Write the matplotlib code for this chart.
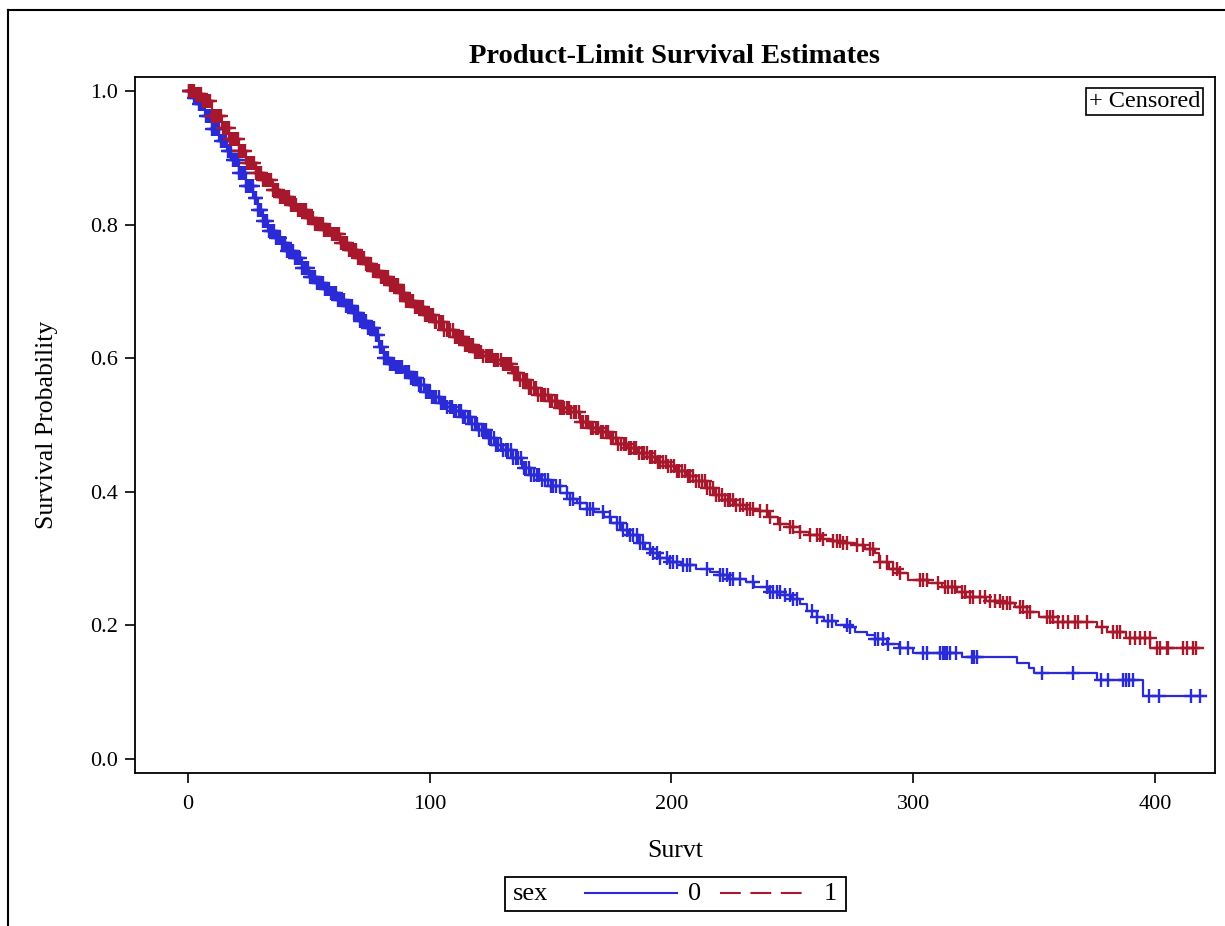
import numpy as np
import matplotlib.pyplot as plt
from matplotlib.lines import Line2D
from matplotlib.patches import Rectangle

plt.rcParams['font.family'] = ['Liberation Serif', 'DejaVu Serif']

BLUE = "#2a2ad6"
RED = "#a8182c"

# step knots (time, survival)
t_male = [0, 2, 4, 7, 10, 13, 16, 18, 21, 24, 27, 29, 31, 33, 36, 38, 41, 44, 47, 50,
          53, 56, 59, 62, 65, 68, 71, 74, 77, 79, 81, 83, 86, 89, 92, 95, 98, 101, 104,
          107, 110, 113, 117, 120, 124, 127, 130, 134, 138, 142, 146, 150, 154, 158,
          161, 165, 168, 172, 175, 179, 182, 186, 189, 192, 195, 199, 204, 210, 216,
          220, 224, 231, 234, 240, 245, 250, 253, 256, 260, 263, 268, 273, 276, 281,
          284, 289, 294, 300, 320, 343, 348, 350, 376, 395, 421]
s_male = [1.0, 0.99, 0.98, 0.962, 0.943, 0.925, 0.91, 0.897, 0.878, 0.858, 0.84, 0.822,
          0.805, 0.79, 0.78, 0.772, 0.76, 0.75, 0.735, 0.722, 0.712, 0.704, 0.697, 0.687,
          0.678, 0.667, 0.656, 0.646, 0.635, 0.617, 0.6, 0.592, 0.587, 0.58, 0.57, 0.56,
          0.55, 0.542, 0.533, 0.527, 0.521, 0.512, 0.502, 0.493, 0.48, 0.47, 0.462, 0.45,
          0.435, 0.425, 0.418, 0.408, 0.398, 0.39, 0.383, 0.375, 0.37, 0.362, 0.354,
          0.343, 0.335, 0.323, 0.315, 0.308, 0.301, 0.295, 0.29, 0.285, 0.28, 0.275,
          0.27, 0.265, 0.257, 0.25, 0.246, 0.24, 0.232, 0.222, 0.213, 0.207, 0.2, 0.197,
          0.19, 0.186, 0.179, 0.172, 0.166, 0.159, 0.153, 0.144, 0.136, 0.129, 0.118,
          0.095, 0.095]

t_female = [0, 3, 6, 10, 14, 17, 21, 24, 28, 31, 35, 38, 42, 45, 49, 52, 56, 59, 63, 66,
            70, 73, 76, 79, 83, 87, 90, 94, 98, 102, 106, 110, 114, 118, 122, 126, 130,
            134, 137, 141, 145, 149, 153, 158, 162, 166, 170, 174, 178, 182, 186, 190,
            194, 198, 202, 206, 210, 214, 218, 222, 226, 231, 236, 240, 244, 249, 253,
            257, 262, 266, 270, 276, 280, 284, 286, 290, 294, 298, 306, 312, 318, 322,
            330, 336, 342, 347, 352, 358, 376, 380, 388, 398, 420]
s_female = [1.0, 0.995, 0.985, 0.962, 0.945, 0.928, 0.91, 0.893, 0.878, 0.867, 0.852,
            0.842, 0.83, 0.822, 0.81, 0.801, 0.792, 0.786, 0.772, 0.762, 0.75, 0.741,
            0.731, 0.721, 0.71, 0.698, 0.686, 0.676, 0.665, 0.655, 0.642, 0.632, 0.62,
            0.61, 0.603, 0.597, 0.592, 0.578, 0.567, 0.556, 0.545, 0.536, 0.525, 0.52,
            0.505, 0.495, 0.49, 0.481, 0.472, 0.465, 0.458, 0.452, 0.445, 0.438, 0.431,
            0.424, 0.416, 0.405, 0.395, 0.388, 0.38, 0.375, 0.371, 0.362, 0.352, 0.347,
            0.34, 0.336, 0.33, 0.327, 0.323, 0.32, 0.315, 0.308, 0.295, 0.285, 0.278,
            0.268, 0.263, 0.258, 0.25, 0.242, 0.237, 0.233, 0.228, 0.22, 0.213, 0.205,
            0.198, 0.19, 0.181, 0.166, 0.166]

# censoring times
c_male = [0.3, 1.0, 1.7, 2.4, 3.1, 3.8, 4.5, 5.2, 5.9, 6.6, 7.3, 8.0, 8.7, 9.4, 10.1,
          10.8, 11.5, 12.2, 12.9, 13.6, 14.3, 15.0, 15.7, 16.4, 17.1, 17.8, 18.5, 19.2,
          19.9, 20.6, 21.3, 22.0, 22.7, 23.4, 24.1, 24.8, 25.5, 26.2, 26.9, 27.6, 28.3,
          29.0, 29.7, 30.4, 31.2, 31.9, 32.7, 33.4, 34.2, 34.9, 35.7, 36.4, 37.2, 37.9,
          38.7, 39.5, 40.2, 41.0, 41.8, 42.5, 43.3, 44.1, 44.8, 45.6, 46.4, 47.2, 47.9,
          48.7, 49.5, 50.3, 51.1, 51.9, 52.6, 53.4, 54.2, 55.0, 55.8, 56.6, 57.4, 58.2,
          59.0, 59.8, 60.6, 61.4, 62.2, 63.0, 63.8, 64.6, 65.4, 66.2, 67.0, 67.9, 68.7,
          69.5, 70.3, 71.1, 71.9, 72.8, 73.6, 74.4, 75.2, 76.1, 76.9, 77.7, 78.6, 79.4,
          80.2, 81.1, 81.9, 82.8, 83.6, 84.5, 85.3, 86.2, 87.0, 87.9, 88.7, 89.6, 90.5,
          91.3, 92.2, 93.1, 93.9, 94.8, 95.7, 96.6, 97.5, 98.3, 99.2, 100.1, 101.0, 101.9,
          102.8, 103.7, 104.6, 105.5, 106.4, 107.3, 108.3, 109.2, 110.1, 111.0, 112.0,
          112.9, 113.8, 114.8, 115.7, 116.7, 117.6, 118.6, 119.5, 120.5, 121.5, 122.4,
          123.4, 124.4, 125.4, 126.4, 127.4, 128.4, 129.4, 130.4, 131.4, 132.5, 133.5,
          134.6, 135.6, 136.7, 137.7, 138.8, 139.9, 141.0, 142.1, 143.2, 144.3, 145.4,
          146.5, 147.7, 148.8, 150.0, 151.1, 152.3,
          153.9, 156.8, 158, 159.3, 162.2, 165, 166.2, 167.5, 171.7, 174.6, 177.5, 178.7,
          179.9, 181.6, 182.8, 184.1, 185.7, 187, 188.2, 191.1, 192.3, 194, 195.2, 198.1,
          199.4, 200.6, 202.3, 204.8, 206.4, 207.6, 214.7, 220, 221.2, 222.8, 224.1,
          225.3, 228.2, 233.7, 239.5, 240.7, 242, 243.6, 244.9, 246.9, 249, 250.3, 252,
          258.1, 260.2, 264.7, 266.4, 272.6, 273.8, 284.2, 285.4, 287.5, 289.6, 294.5,
          297.9, 304, 305.7, 311, 312.3, 313, 314, 315.3, 317.7, 324.3, 325.1, 326.4,
          353.3, 366, 377.7, 380.6, 386.8, 388, 389.2, 390.9, 397.5, 401.7, 414.9, 418.6]
c_female = [0.3, 1.0, 1.8, 2.5, 3.2, 4.0, 4.7, 5.5, 6.2, 7.0, 7.7, 8.5, 9.2, 10.0, 10.8,
            11.5, 12.3, 13.0, 13.8, 14.5, 15.3, 16.0, 16.8, 17.5, 18.3, 19.0, 19.8, 20.6,
            21.3, 22.1, 22.8, 23.6, 24.3, 25.1, 25.9, 26.6, 27.4, 28.1, 28.9, 29.7, 30.4,
            31.2, 31.9, 32.7, 33.5, 34.2, 35.0, 35.8, 36.5, 37.3, 38.0, 38.8, 39.6, 40.3,
            41.1, 41.9, 42.6, 43.4, 44.2, 44.9, 45.7, 46.5, 47.2, 48.0, 48.8, 49.5, 50.3,
            51.1, 51.8, 52.6, 53.4, 54.1, 54.9, 55.7, 56.4, 57.2, 58.0, 58.8, 59.5, 60.3,
            61.1, 61.8, 62.6, 63.4, 64.2, 64.9, 65.7, 66.5, 67.3, 68.0, 68.8, 69.6, 70.4,
            71.1, 71.9, 72.7, 73.5, 74.2, 75.0, 75.8, 76.6, 77.4, 78.1, 78.9, 79.7, 80.5,
            81.3, 82.0, 82.8, 83.6, 84.4, 85.2, 86.0, 86.8, 87.6, 88.4, 89.2, 90.0, 90.8,
            91.6, 92.4, 93.2, 94.0, 94.8, 95.6, 96.4, 97.2, 98.0, 98.8, 99.6, 100.4, 101.2,
            102.0, 102.8, 103.7, 104.5, 105.3, 106.1, 107.0, 107.8, 108.6, 109.5, 110.3,
            111.1, 112.0, 112.8, 113.6, 114.5, 115.3, 116.2, 117.0, 117.9, 118.7, 119.6,
            120.5, 121.3, 122.2, 123.1, 124.0, 124.8, 125.7, 126.6, 127.5, 128.4, 129.3,
            130.2, 131.1, 132.0, 132.9, 133.8, 134.7, 135.6, 136.5, 137.5, 138.4, 139.3,
            140.3, 141.2, 142.1, 143.1, 144.0, 145.0, 145.9, 146.9, 147.8, 148.8, 149.8,
            150.7, 151.7, 152.7, 153.7, 154.6, 155.6, 156.6, 157.6, 158.6, 159.6, 160.6,
            161.6, 162.6, 163.6, 164.6, 165.6, 166.6, 167.7, 168.7, 169.7, 170.7, 171.8,
            172.8, 173.9, 174.9, 175.9, 177.0, 178.0, 179.1, 180.2, 181.2, 182.3, 183.4,
            184.4, 185.5, 186.6, 187.7, 188.8, 189.9, 191.0, 192.1, 193.2, 194.3, 195.4,
            196.5, 197.6, 198.7, 199.9, 201.0, 202.1, 203.3, 204.4, 205.5, 206.7, 207.8,
            209.0, 210.2, 211.3, 212.5, 213.7, 214.8, 216.0, 217.2, 218.4, 219.6, 220.8,
            222.0, 223.2, 224.4, 225.6, 226.8,
            228.3, 229.6, 231.2, 232.5, 233.7, 236.6, 239.5, 240.7, 244.9, 249, 250.3,
            253.2, 257.3, 260.2, 261.4, 262.7, 266.8, 268.5, 269.7, 270.9, 272.6, 276.7,
            279.2, 282.1, 283.4, 286.2, 289.1, 291.6, 293.3, 294.5, 302.8, 304, 305.7,
            310.2, 313.1, 314.4, 316, 317.3, 320.2, 321.4, 323.5, 324.7, 327.6, 329.7,
            331.7, 333.8, 335.9, 337.1, 338.8, 340, 344.2, 345.4, 347, 348.3, 355.3,
            356.6, 357.8, 359.9, 361.9, 364, 366.9, 368.1, 371.9, 378.1, 382.6, 384.3,
            385.5, 389.7, 391.7, 393.8, 395.9, 397.9, 400.8, 402, 404.9, 405.4, 411.6,
            413.2, 415.7, 417]


def surv_at(times, surv, c):
    idx = np.searchsorted(np.asarray(times), np.asarray(c), side="right") - 1
    return np.asarray(surv)[idx]


fig = plt.figure(figsize=(12.25, 9.26), dpi=100)
ax = fig.add_axes([0.1102, 0.1652, 0.8816, 0.7516])

for t, s, c, col in [(t_male, s_male, c_male, BLUE), (t_female, s_female, c_female, RED)]:
    ax.plot(t, s, drawstyle="steps-post", color=col, lw=1.6, zorder=3)
    ax.plot(c, surv_at(t, s, c), ls="none", marker="+", color=col,
            markersize=9.5, markeredgewidth=1.7, zorder=4)

ax.set_xlim(-21.9, 424.8)
ax.set_ylim(-0.021, 1.021)
ax.set_xticks([0, 100, 200, 300, 400])
ax.set_yticks([0.0, 0.2, 0.4, 0.6, 0.8, 1.0])
ax.set_yticklabels(["0.0", "0.2", "0.4", "0.6", "0.8", "1.0"])
ax.tick_params(direction="out", length=7, width=1.2, labelsize=16)
ax.tick_params(axis="x", pad=9)
ax.tick_params(axis="y", pad=5)
for sp in ax.spines.values():
    sp.set_linewidth(1.3)

ax.set_title("Product-Limit Survival Estimates", fontsize=20.5, fontweight="bold", pad=10)
ax.set_xlabel("Survt", fontsize=18.5)
ax.set_ylabel("Survival Probability", fontsize=18.5)
ax.xaxis.set_label_coords(0.5, -0.112)
ax.xaxis.label.set_va("center")
ax.yaxis.set_label_coords(-0.0815, 0.5)
ax.yaxis.label.set_va("center")

ax.text(0.9865, 0.9805, "+ Censored", transform=ax.transAxes, ha="right", va="top",
        fontsize=17.5, bbox=dict(boxstyle="square,pad=0.12", fc="white", ec="black", lw=1.2))

# bottom legend
W, H = 1225.0, 926.0
def fx(px): return px / W
def fy(py): return 1 - py / H

fig.patches.append(Rectangle((fx(505), fy(911)), fx(846) - fx(505), fy(877) - fy(911),
                             transform=fig.transFigure, fill=False, ec="black", lw=1.3))
fig.text(fx(513), fy(894), "sex", fontsize=19, va="center")
fig.lines.append(Line2D([fx(585), fx(677)], [fy(893), fy(893)], transform=fig.transFigure,
                        color=BLUE, lw=1.5))
fig.text(fx(688), fy(894), "0", fontsize=19, va="center")
fig.lines.append(Line2D([fx(720), fx(804)], [fy(893), fy(893)], transform=fig.transFigure,
                        color=RED, lw=1.5, dashes=(10, 4.6)))
fig.text(fx(824), fy(894), "1", fontsize=19, va="center")

# outer frame (top and left edges only visible)
fig.lines.append(Line2D([fx(8), 1.0], [fy(10), fy(10)], transform=fig.transFigure,
                        color="black", lw=1.5))
fig.lines.append(Line2D([fx(8), fx(8)], [fy(10), 0.0], transform=fig.transFigure,
                        color="black", lw=1.5))

fig.savefig("out.png", dpi=100)
